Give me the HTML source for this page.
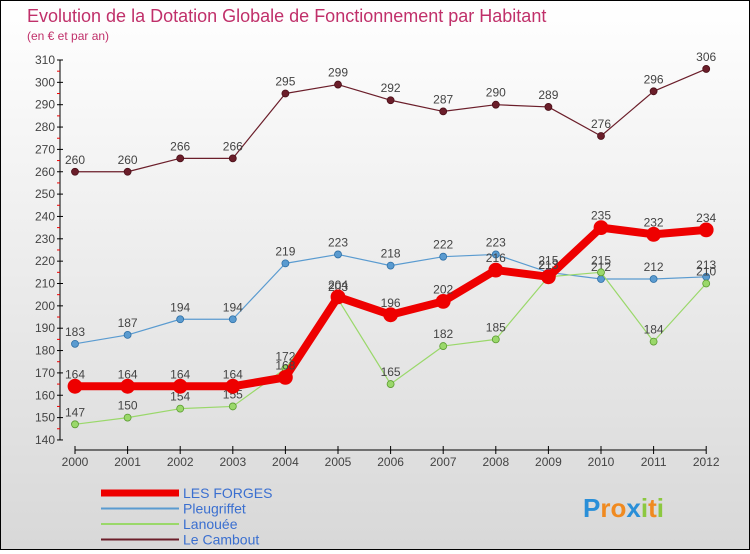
<!DOCTYPE html>
<html><head><meta charset="utf-8"><style>
body{margin:0;width:750px;height:550px;overflow:hidden;font-family:"Liberation Sans",sans-serif}
#wrap{position:relative;width:748px;height:548px;border:1px solid #000;background:linear-gradient(#fff,#d8d8d8)}
</style></head><body>
<div id="wrap">
<svg id="chart" width="748" height="548" font-family="Liberation Sans, sans-serif">
<text x="26" y="21" font-size="18" fill="#c0306a">Evolution de la Dotation Globale de Fonctionnement par Habitant</text>
<text x="26" y="39" font-size="12" fill="#c0306a">(en € et par an)</text>
</svg>
</div>
<script>
const years=["2000","2001","2002","2003","2004","2005","2006","2007","2008","2009","2010","2011","2012"];
const yTicks=[140,150,160,170,180,190,200,210,220,230,240,250,260,270,280,290,300,310];
const forges=[164,164,164,164,168,204,196,202,216,213,235,232,234];
const pleug=[183,187,194,194,219,223,218,222,223,215,212,212,213];
const lanouee=[147,150,154,155,172,203,165,182,185,213,215,184,210];
const cambout=[260,260,266,266,295,299,292,287,290,289,276,296,306];
const svg=document.getElementById('chart');const NS='http://www.w3.org/2000/svg';
const x=i=>74+i*52.6; const y=v=>59+(310-v)*2.235;
function mk(t,a,p){const e=document.createElementNS(NS,t);for(const k in a)e.setAttribute(k,a[k]);(p||svg).appendChild(e);return e;}
const ax=mk('g',{});


mk('line',{x1:59,y1:59,x2:59,y2:y(140),stroke:'#000'},ax);
mk('line',{x1:x(0),y1:449,x2:x(12),y2:449,stroke:'#000'},ax);
yTicks.forEach(v=>{
 mk('line',{x1:56,y1:y(v),x2:62,y2:y(v),stroke:'#000'},ax);
 if(v<310)mk('line',{x1:56,y1:y(v+5),x2:59,y2:y(v+5),stroke:'#e00'},ax);
 const t=mk('text',{x:54,y:y(v)+4,'font-size':12,fill:'#444','text-anchor':'end'},ax);t.textContent=v;
 
 
});
years.forEach((yr,i)=>{
 mk('line',{x1:x(i),y1:445,x2:x(i),y2:453,stroke:'#000'},ax);
 const t=mk('text',{x:x(i),y:465,'font-size':12,fill:'#444','text-anchor':'middle'},ax);t.textContent=yr;
 
 
});
function series(data,color,w,r,name,lbl){
 const g=mk('g',{});
 
 
 mk('polyline',{points:data.map((v,i)=>x(i)+','+y(v)).join(' '),fill:'none',stroke:color,'stroke-width':w,'stroke-linejoin':'round'},g);
 data.forEach((v,i)=>{
  const c=mk('circle',{cx:x(i),cy:y(v),r:r,fill:color,stroke:lbl,'stroke-width':0.8},g);
  
  
  const t=mk('text',{x:x(i),y:y(v)-8,'font-size':12,fill:'#444','text-anchor':'middle'},g);t.textContent=v;
  
  
 });
}
series(cambout,'#6b1e2a',1.2,3.5,'series-le-cambout','#4a0f18');
series(pleug,'#5a9bd0',1.2,3.5,'series-pleugriffet','#2e6fa5');
series(lanouee,'#9ad86a',1.2,3.5,'series-lanouee','#5a9a30');
series(forges,'#ee0000',8,7,'series-les-forges','#ee0000');
const leg=[["LES FORGES","#ee0000",7],["Pleugriffet","#5a9bd0",2],["Lanouée","#9ad86a",2],["Le Cambout","#6b1e2a",2]];
leg.forEach((l,i)=>{
 const g=mk('g',{});
 
 
 const ly=492+i*15.5;
 mk('line',{x1:100,y1:ly,x2:178,y2:ly,stroke:l[1],'stroke-width':l[2]},g);
 const t=mk('text',{x:182,y:ly+5,'font-size':14,fill:'#3a6fd0'},g);t.textContent=l[0];
});
const lg=mk('text',{x:582,y:516,'font-size':26,'font-weight':'bold'});


[["P","#2a8fd8"],["r","#f08a20"],["o","#f08a20"],["x","#2a8fd8"],["i","#8cc840"],["t","#f08a20"],["i","#8cc840"]].forEach(c=>{
 const s=mk('tspan',{fill:c[1]},lg);s.textContent=c[0];
});
</script>
</body></html>
